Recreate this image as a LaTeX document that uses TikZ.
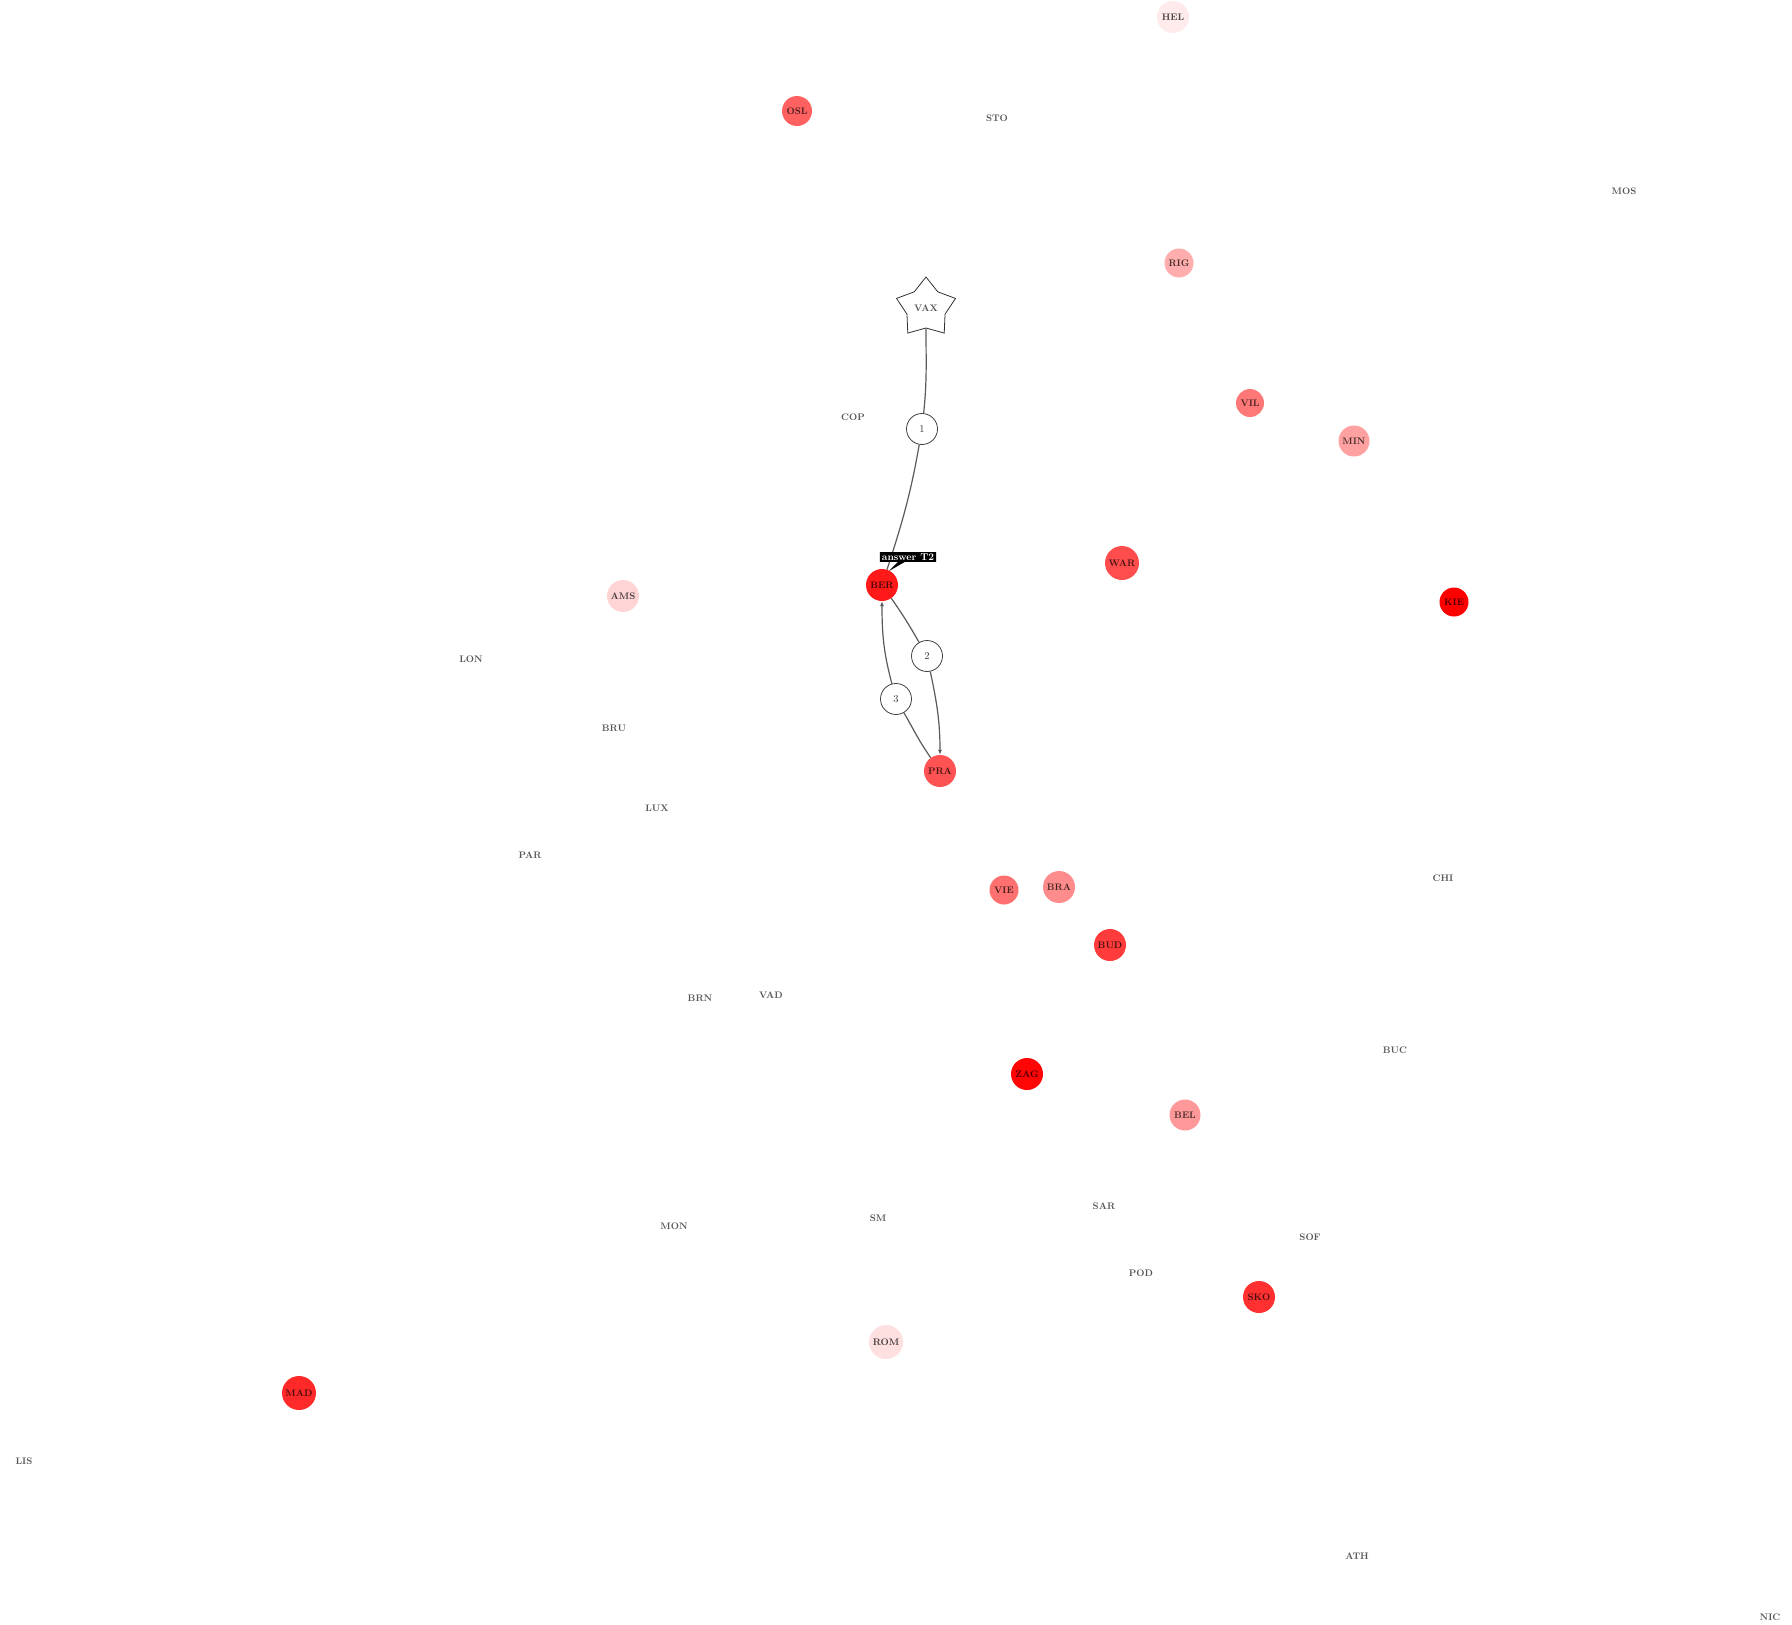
\documentclass[tikz,border=0pt]{standalone}
\usepackage{xcolor}
\usepackage{tikz}
\usetikzlibrary{arrows.meta,shapes.geometric,shapes.callouts,backgrounds}
\definecolor{ink}{HTML}{555555}
\definecolor{wire}{HTML}{5A5A5A}

\begin{document}
\begin{tikzpicture}[x=1pt,y=-1pt,
  city/.style={font=\fontsize{9.5}{10}\selectfont\bfseries,text=ink},
  hot/.style={circle,fill=#1,minimum size=31pt,inner sep=0pt,
              font=\fontsize{9.5}{10}\selectfont\bfseries,text=black,text opacity=0.72},
  hop/.style={circle,draw=black!75,fill=white,line width=0.8pt,minimum size=31pt,
              inner sep=0pt,font=\fontsize{10.5}{11}\selectfont,text=black!80},
  edge/.style={draw=wire,line width=1.2pt},
  ar/.style={edge,-{Latex[length=5pt,width=4pt]}}
]
\useasboundingbox (0,0) rectangle (1792,1625);

% plain labels
\node[city] (sto) at (997,118) {STO};
\node[city] (mos) at (1624,191) {MOS};
\node[city] (cop) at (853,417) {COP};
\node[city] (lon) at (471,659) {LON};
\node[city] (bru) at (614,728) {BRU};
\node[city] (lux) at (657,808) {LUX};
\node[city] (par) at (530,855) {PAR};
\node[city] (chi) at (1443,878) {CHI};
\node[city] (brn) at (700,998) {BRN};
\node[city] (vad) at (771,995) {VAD};
\node[city] (buc) at (1395,1050) {BUC};
\node[city] (sar) at (1104,1206) {SAR};
\node[city] (mon) at (674,1226) {MON};
\node[city] (sm)  at (878,1218) {SM};
\node[city] (sof) at (1310,1237) {SOF};
\node[city] (pod) at (1141,1273) {POD};
\node[city] (lis) at (24,1461) {LIS};
\node[city] (ath) at (1357,1556) {ATH};
\node[city] (nic) at (1770,1617) {NIC};

% shaded cities
\node[hot={red!8},minimum size=32pt]  (hel) at (1173,17) {HEL};
\node[hot={red!62},minimum size=30pt] (osl) at (797,111) {OSL};
\node[hot={red!32},minimum size=29pt] (rig) at (1179,263) {RIG};
\node[hot={red!53},minimum size=28pt] (vil) at (1250,403) {VIL};
\node[hot={red!37}]                   (min) at (1354,441) {MIN};
\node[hot={red!70},minimum size=34pt] (war) at (1122,563) {WAR};
\node[hot={red!90},minimum size=32pt] (ber) at (882,585) {BER};
\node[hot={red!17},minimum size=32pt] (ams) at (623,596) {AMS};
\node[hot={red},minimum size=29pt]    (kie) at (1454,602) {KIE};
\node[hot={red!68},minimum size=32pt] (pra) at (940,771) {PRA};
\node[hot={red!56},minimum size=29pt] (vie) at (1004,890) {VIE};
\node[hot={red!45},minimum size=32pt] (bra) at (1059,887) {BRA};
\node[hot={red!77},minimum size=32pt] (bud) at (1110,945) {BUD};
\node[hot={red!98},minimum size=32pt] (zag) at (1027,1074) {ZAG};
\node[hot={red!40}]                   (bel) at (1185,1115) {BEL};
\node[hot={red!81},minimum size=32pt] (sko) at (1259,1297) {SKO};
\node[hot={red!12},minimum size=34pt] (rom) at (886,1342) {ROM};
\node[hot={red!84},minimum size=34pt] (mad) at (299,1393) {MAD};

% route
\node[star,star points=5,star point ratio=1.55,minimum size=62pt,inner sep=0pt,
      draw=black!80,line width=0.8pt,fill=white,
      font=\fontsize{9.5}{10}\selectfont\bfseries,text=ink] (vax) at (926,308) {VAX};
\node[hop] (s1) at (922,429) {1};
\node[hop] (s2) at (927,656) {2};
\node[hop] (s3) at (896,699) {3};

\begin{scope}[on background layer]
\draw[edge] (vax) to[out=-90,in=84] (s1);
\draw[edge] (s1) to[out=-100,in=72] (ber);
\draw[edge] (ber) to[out=-55,in=120] (s2);
\draw[ar] (s2) to[out=-78,in=90] (pra);
\draw[edge] (pra) to[out=125,in=-60] (s3);
\draw[ar] (s3) to[out=105,in=-90] (ber);
\end{scope}

\node[rectangle callout,fill=black,text=white,inner xsep=2pt,inner ysep=1.5pt,
      font=\fontsize{10}{11}\selectfont\bfseries,callout pointer width=7pt,
      callout absolute pointer={(889,571)}] (tip) at (908,557) {answer T2};
\end{tikzpicture}
\end{document}
